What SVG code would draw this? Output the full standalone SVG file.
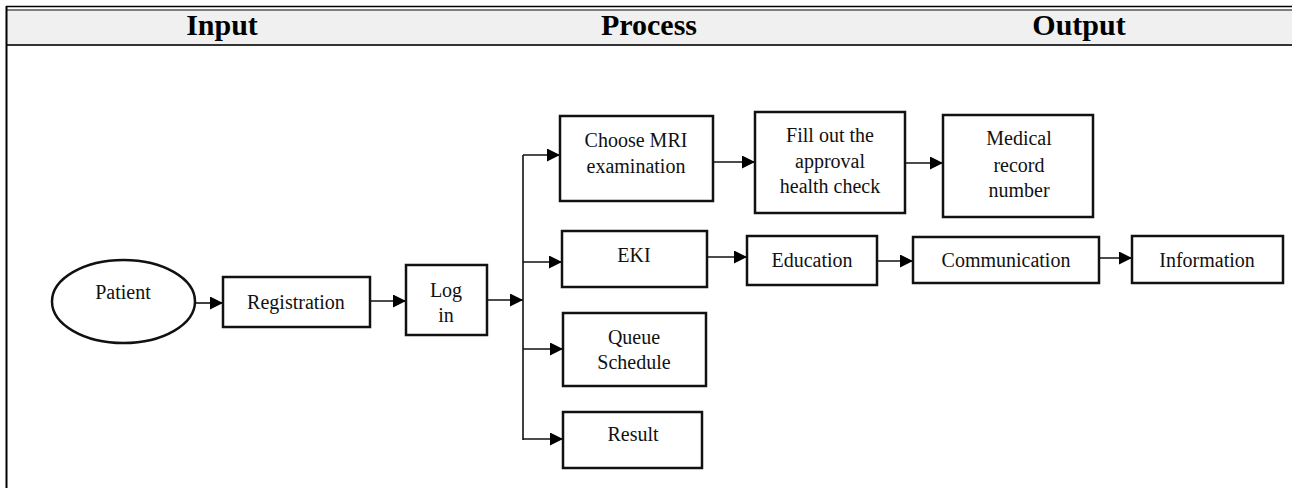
<svg xmlns="http://www.w3.org/2000/svg" width="1292" height="488" viewBox="0 0 1292 488">
<style>
.hdr{font-family:"Liberation Serif","Times New Roman",serif;font-weight:bold;font-size:30px;fill:#000;text-anchor:middle}
.t{font-family:"Liberation Serif","Times New Roman",serif;font-size:20px;fill:#111;text-anchor:middle}
.box{fill:#fff;stroke:#111;stroke-width:2.5}
.con{fill:none;stroke:#111;stroke-width:1.6}
</style>
<defs>
<marker id="ah" markerUnits="userSpaceOnUse" markerWidth="14" markerHeight="14" refX="13" refY="6.5" orient="auto">
<path d="M0,0 L13,6.5 L0,13 Z" fill="#000"/>
</marker>
</defs>
<rect x="0" y="0" width="1292" height="488" fill="#fff"/>
<g id="header">
<rect x="6" y="10.5" width="1286" height="33.5" fill="#f0f0f0"/>
<line x1="6" y1="6.5" x2="1292" y2="6.5" stroke="#000" stroke-width="1.5"/>
<line x1="6" y1="10" x2="1292" y2="10" stroke="#555" stroke-width="1.5"/>
<line x1="6" y1="45" x2="1292" y2="45" stroke="#333" stroke-width="2.2"/>
<line x1="6.5" y1="6" x2="6.5" y2="488" stroke="#000" stroke-width="2"/>
<text class="hdr" x="222" y="35">Input</text>
<text class="hdr" x="649" y="35">Process</text>
<text class="hdr" x="1079" y="35">Output</text>
</g>
<g id="connectors">
<line class="con" x1="195" y1="303" x2="223" y2="303" marker-end="url(#ah)"/>
<line class="con" x1="370" y1="301" x2="406" y2="301" marker-end="url(#ah)"/>
<line class="con" x1="487" y1="300" x2="523" y2="300" marker-end="url(#ah)"/>
<line class="con" x1="523" y1="155" x2="523" y2="440"/>
<line class="con" x1="523" y1="155" x2="560" y2="155" marker-end="url(#ah)"/>
<line class="con" x1="523" y1="262" x2="562" y2="262" marker-end="url(#ah)"/>
<line class="con" x1="523" y1="349" x2="563" y2="349" marker-end="url(#ah)"/>
<line class="con" x1="523" y1="439" x2="563" y2="439" marker-end="url(#ah)"/>
<line class="con" x1="713" y1="162" x2="755" y2="162" marker-end="url(#ah)"/>
<line class="con" x1="905" y1="163" x2="943" y2="163" marker-end="url(#ah)"/>
<line class="con" x1="707" y1="257" x2="747" y2="257" marker-end="url(#ah)"/>
<line class="con" x1="877" y1="261" x2="913" y2="261" marker-end="url(#ah)"/>
<line class="con" x1="1099" y1="258" x2="1132" y2="258" marker-end="url(#ah)"/>
</g>
<g id="patient">
<ellipse class="box" cx="123.5" cy="301.5" rx="71.5" ry="41.5"/>
<text class="t" x="123" y="299">Patient</text>
</g>
<g id="registration">
<rect class="box" x="223" y="277" width="147" height="50"/>
<text class="t" x="296" y="309">Registration</text>
</g>
<g id="login">
<rect class="box" x="406" y="265" width="81" height="70"/>
<text class="t" x="446" y="297">Log</text>
<text class="t" x="446" y="322">in</text>
</g>
<g id="choose-mri">
<rect class="box" x="560" y="116" width="153" height="85"/>
<text class="t" x="636" y="147">Choose MRI</text>
<text class="t" x="636" y="173">examination</text>
</g>
<g id="fill-out">
<rect class="box" x="755" y="112" width="150" height="101"/>
<text class="t" x="830" y="142">Fill out the</text>
<text class="t" x="830" y="168">approval</text>
<text class="t" x="830" y="193">health check</text>
</g>
<g id="medical-record">
<rect class="box" x="943" y="115" width="150" height="102"/>
<text class="t" x="1019" y="145">Medical</text>
<text class="t" x="1019" y="172">record</text>
<text class="t" x="1019" y="197">number</text>
</g>
<g id="eki">
<rect class="box" x="562" y="231" width="145" height="56"/>
<text class="t" x="634" y="262">EKI</text>
</g>
<g id="education">
<rect class="box" x="747" y="236" width="130" height="49"/>
<text class="t" x="812" y="267">Education</text>
</g>
<g id="communication">
<rect class="box" x="913" y="237" width="186" height="46"/>
<text class="t" x="1006" y="267">Communication</text>
</g>
<g id="information">
<rect class="box" x="1132" y="236" width="151" height="47"/>
<text class="t" x="1207" y="267">Information</text>
</g>
<g id="queue-schedule">
<rect class="box" x="563" y="313" width="143" height="73"/>
<text class="t" x="634" y="344">Queue</text>
<text class="t" x="634" y="369">Schedule</text>
</g>
<g id="result">
<rect class="box" x="563" y="412" width="139" height="56"/>
<text class="t" x="633" y="441">Result</text>
</g>
</svg>
